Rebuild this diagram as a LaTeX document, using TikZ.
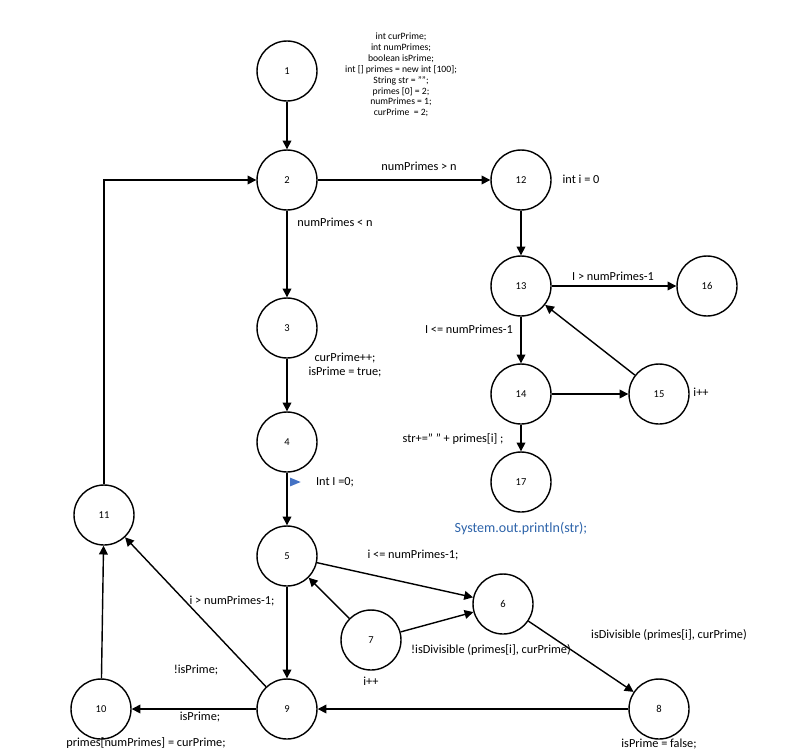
\documentclass[tikz,border=0pt]{standalone}
\usepackage{fontspec}
\setmainfont{Carlito}
\usetikzlibrary{arrows.meta,shapes.geometric}
\begin{document}
\begin{tikzpicture}[x=0.02cm,y=-0.02cm,>={Triangle[length=5pt,width=5pt]},
  st/.style={circle,draw,thick,minimum size=1.2cm,inner sep=0pt,font=\fontsize{6}{7}\selectfont},
  lb/.style={font=\fontsize{7}{8}\selectfont,inner sep=1pt},
  every path/.style={thick}]
\useasboundingbox (0,0) rectangle (803,754);
\node[st] (n1) at (287,71) {1};
\node[st] (n2) at (287,180) {2};
\node[st] (n3) at (287,328) {3};
\node[st] (n4) at (287,442) {4};
\node[st] (n5) at (287,556) {5};
\node[st] (n6) at (503,604) {6};
\node[st] (n7) at (371,640) {7};
\node[st] (n8) at (659,709) {8};
\node[st] (n9) at (287,709) {9};
\node[st] (n10) at (101,709) {10};
\node[st] (n11) at (104,515) {11};
\node[st] (n12) at (521,180) {12};
\node[st] (n13) at (521,286) {13};
\node[st] (n14) at (521,394) {14};
\node[st] (n15) at (659,394) {15};
\node[st] (n16) at (707,286) {16};
\node[st] (n17) at (521,482) {17};
\coordinate (c11) at (104,180);
\draw[->] (n1) -- (n2);
\draw[->] (n2) -- (n3);
\draw[->] (n3) -- (n4);
\draw[->] (n4) -- (n5);
\draw[->] (n2) -- (n12);
\draw[->] (n12) -- (n13);
\draw[->] (n13) -- (n16);
\draw[->] (n13) -- (n14);
\draw[->] (n14) -- (n15);
\draw[->] (n15) -- (n13);
\draw[->] (n14) -- (n17);
\draw[->] (n5) -- (n6);
\draw[->] (n7) -- (n6);
\draw[->] (n7) -- (n5);
\draw[->] (n6) -- (n8);
\draw[->] (n8) -- (n9);
\draw[->] (n5) -- (n9);
\draw[->] (n9) -- (n10);
\draw[->] (n9) -- (n11);
\draw[->] (n10) -- (n11);
\draw[->] (n11) -- (c11) -- (n2);
\node[lb,align=center,font=\fontsize{5.5}{6.2}\selectfont] (code) at (401,75) {int curPrime;\\int numPrimes;\\boolean isPrime;\\int [] primes = new int [100];\\String str = "";\\primes [0] = 2;\\numPrimes = 1;\\curPrime\ \ = 2;};
\node[lb] (l1) at (419,166) {numPrimes > n};
\node[lb] (l2) at (335,222) {numPrimes < n};
\node[lb] (l3) at (581,179) {int i = 0};
\node[lb] (l4) at (613,276) {I > numPrimes-1};
\node[lb] (l5) at (469,329) {I <= numPrimes-1};
\node[lb] (l6) at (701,392) {i++};
\node[lb] (l7) at (453,439) {str+=" " + primes[i] ;};
\node[lb,text={rgb,255:red,46;green,100;blue,170},font=\fontsize{8}{9}\selectfont] (l8) at (521,528) {System.out.println(str);};
\node[lb,align=center] (l9) at (345,365) {curPrime++;\\isPrime = true;};
\node[lb] (l10) at (335,482) {Int I =0;};
\node[fill={rgb,255:red,68;green,114;blue,196},isosceles triangle,inner sep=0pt,minimum size=5pt] (tri) at (293,482) {};
\node[lb] (l11) at (413,555) {i <= numPrimes-1;};
\node[lb] (l12) at (669,635) {isDivisible (primes[i], curPrime)};
\node[lb] (l13) at (491,650) {!isDivisible (primes[i], curPrime)};
\node[lb] (l14) at (371,681) {i++};
\node[lb] (l15) at (232,601) {i > numPrimes-1;};
\node[lb] (l16) at (196,670) {!isPrime;};
\node[lb] (l17) at (200,717) {isPrime;};
\node[lb] (l18) at (146,743) {primes[numPrimes] = curPrime;};
\node[lb] (l19) at (659,744) {isPrime = false;};
\end{tikzpicture}
\end{document}
